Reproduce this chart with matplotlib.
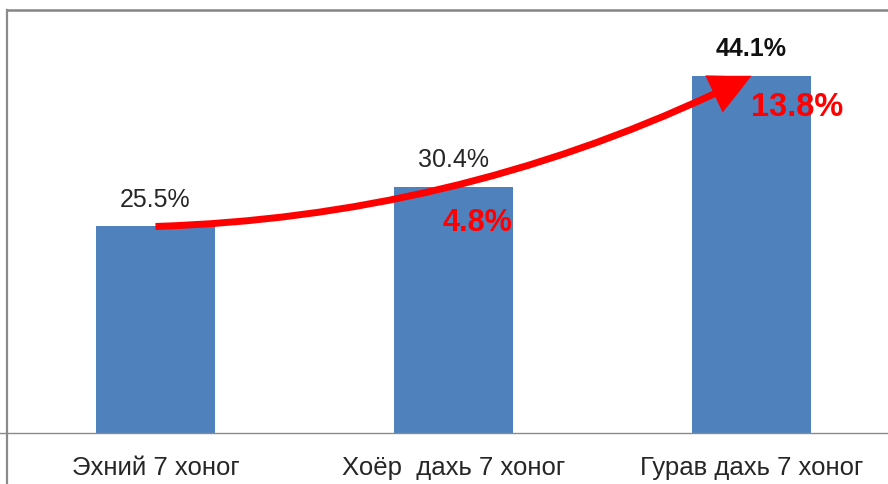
import matplotlib
matplotlib.use("Agg")
import matplotlib.pyplot as plt
from matplotlib.lines import Line2D
from matplotlib.patches import FancyArrowPatch

# data
categories = ["Эхний 7 хоног", "Хоёр  дахь 7 хоног", "Гурав дахь 7 хоног"]
values = [25.5, 30.4, 44.1]
value_labels = ["25.5%", "30.4%", "44.1%"]
growth_labels = ["4.8%", "13.8%"]

plt.rcParams['font.family'] = ['Liberation Sans', 'DejaVu Sans']

W, H = 888, 484
fig = plt.figure(figsize=(W / 100, H / 100), dpi=100)

# axes box in pixels: left spine x=7, top y=10, baseline y=433
base_px, top_px, left_px = 433, 10, 7
ax = fig.add_axes([left_px / W, (H - base_px) / H, 1.0, (base_px - top_px) / H])
step = 298.0       # px between bar centres
scale = 8.1        # px per percent
x0 = 155.5         # px of first bar centre
ax.set_xlim(-(x0 - left_px) / step, (left_px + W - x0) / step)
ax.set_ylim(0, (base_px - top_px) / scale)
ax.axis("off")

xs = list(range(len(values)))
ax.bar(xs, values, width=0.4, color="#4F81BD", zorder=2)

# frame lines
fig.add_artist(Line2D([left_px / W, 1], [1 - top_px / H] * 2, color="#858585", lw=1.8))
fig.add_artist(Line2D([left_px / W] * 2, [0, 1 - top_px / H], color="#8a8a8a", lw=1.6))
fig.add_artist(Line2D([0, 1], [(H - base_px) / H] * 2, color="#8a8a8a", lw=1.0))

# category labels
for x, c in zip(xs, categories):
    ax.text(x, -(468 - base_px) / (base_px - top_px), c, transform=ax.get_xaxis_transform(),
            ha="center", va="center", fontsize=18.5, color="#262626")

# value labels
for i, (x, v, lab) in enumerate(zip(xs, values, value_labels)):
    ax.annotate(lab, (x, v), xytext=(0, 19), textcoords="offset points",
                ha="center", va="center", fontsize=18, color="#262626" if i < 2 else "#111111",
                fontweight="bold" if i == 2 else "normal", zorder=5)

# curved arrow from first to last bar
arrow = FancyArrowPatch((xs[0], values[0]), (xs[2], values[2]),
                        connectionstyle="arc3,rad=0.11",
                        arrowstyle="simple,head_length=3.0,head_width=2.95,tail_width=0.5",
                        mutation_scale=10, lw=0, color="#FF0000",
                        shrinkA=0, shrinkB=0, zorder=4)
ax.add_patch(arrow)

# growth labels
offsets = [(17, -26), (33, -23)]
sizes = [22, 23.5]
for x, v, lab, off, fs in zip(xs[1:], values[1:], growth_labels, offsets, sizes):
    ax.annotate(lab, (x, v), xytext=off, textcoords="offset points",
                ha="center", va="center", fontsize=fs, color="#FF0000",
                fontweight="bold", zorder=5)

fig.savefig("out.png", dpi=100)
